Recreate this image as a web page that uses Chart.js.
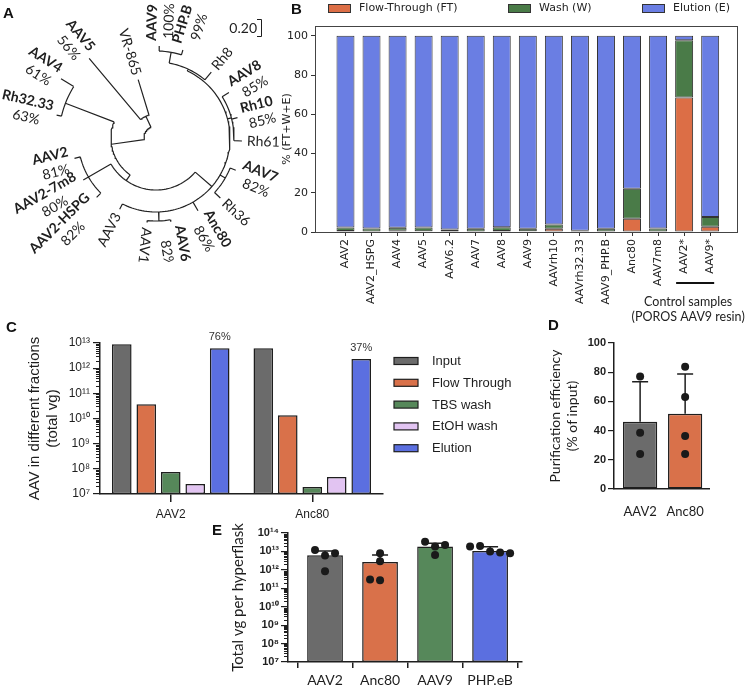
<!DOCTYPE html>
<html>
<head>
<meta charset="utf-8">
<script src="https://cdn.jsdelivr.net/npm/chart.js@4.4.1/dist/chart.umd.min.js"></script>
<style>
  body { margin: 0; background: #fff; width: 745px; height: 689px; position: relative; overflow: hidden; }
  canvas { position: absolute; }
  .tag { position: absolute; font: bold 15px "Liberation Sans", Arial, sans-serif; color: #111; line-height: 15px; }
</style>
</head>
<body>
<canvas id="treeChart" width="290" height="262" style="left:0;top:0"></canvas>
<canvas id="fracChart" width="473" height="330" style="left:272px;top:0"></canvas>
<canvas id="logChart" width="520" height="210" style="left:0;top:330px"></canvas>
<canvas id="effChart" width="225" height="210" style="left:520px;top:330px"></canvas>
<canvas id="yieldChart" width="400" height="169" style="left:150px;top:520px"></canvas>
<div class="tag" style="left:3px;top:5px">A</div>
<div class="tag" style="left:291px;top:1px">B</div>
<div class="tag" style="left:6px;top:319px">C</div>
<div class="tag" style="left:548px;top:317px">D</div>
<div class="tag" style="left:212px;top:522px">E</div>
<script>
// ---- A: capsid tree (angle in degrees clockwise from top, depth = distance from root)
var treeNames  = ['root','c5','AAV5','VR-865','cMain','c4','AAV4','Rh32.33','cBig','c2','AAV2','AAV2-7m8','AAV2-HSPG','cRing','AAV3','c16','AAV1','AAV6.2','Anc80','c7','AAV7','Rh36','cRh','Rh61','Rh10','AAV8','cTop','Rh8','c9','AAV9','PHP.B'];
var treeParent = [-1,0,1,1,0,4,5,5,4,8,9,9,9,8,13,13,15,15,13,13,19,19,13,22,22,22,13,26,26,28,28];
var treeAngle  = [300,335,320,343,262,291,302,283,215,240,256,240,225,131,207,178,186,170,150,120,112,133,75,92,76,58,25,40,10,2,17];
var treeDepth  = [12,24,104,61,45,97,112,102,52,78,84,84,84,74,80,83,85,85,84,80,86,88,78,86,84,86,76,86,87,92,92];
var treeScore  = ['','','56%','','','','61%','63%','','','81%','80%','82%','','','','','82%','86%','','82%','','','','85%','85%','','','','100%','99%'];

// ---- B: fraction of vector genomes per fraction (%)
var sampleNames = ['AAV2','AAV2_HSPG','AAV4','AAV5','AAV6.2','AAV7','AAV8','AAV9','AAVrh10','AAVrh32.33','AAV9_PHP.B','Anc80','AAV7m8','AAV2*','AAV9*'];
var flowThrough = [0.5,0.3,0.6,0.4,0.3,0.3,0.5,0.4,1.6,0.2,0.3,6.7,0.3,68.5,2.7];
var washFrac    = [1.8,1.5,1.6,1.9,1.0,1.4,1.9,1.3,2.2,0.5,1.3,15.3,1.5,29.3,5.0];
var elutionFrac = [97.7,98.2,97.8,97.7,98.7,98.3,97.6,98.3,96.2,99.3,98.4,78.0,98.2,2.2,92.3];

// ---- C: total vg in each fraction
var fracGroups = ['AAV2','Anc80'];
var inputVg    = [8.9e12, 6.2e12];
var ftVg       = [3.7e10, 1.35e10];
var tbsVg      = [7.5e7, 1.9e7];
var etohVg     = [2.5e7, 4.7e7];
var elutionVg  = [6.2e12, 2.3e12];
var elutionPct = ['76%','37%'];

// ---- D: purification efficiency (% of input)
var effNames  = ['AAV2','Anc80'];
var effMean   = [46, 51.5];
var effSD     = [27.5, 27.3];
var effPoints = [[77, 38.6, 24], [83.8, 63, 36.3, 24]];

// ---- E: total vg per hyperflask
var yieldNames  = ['AAV2','Anc80','AAV9','PHP.eB'];
var yieldMean   = [6.2e12, 2.7e12, 1.85e13, 1.07e13];
var yieldSD     = [4.5e12, 3.8e12, 9.5e12, 7.3e12];
var yieldPoints = [[6e12, 1.2e13, 8e12, 8.5e11], [2.9e12, 8e12, 2.7e11, 3e11], [1.85e13, 3.3e13, 2.2e13, 6.5e12], [9.8e12, 1.95e13, 8.7e12, 1.85e13, 8e12]];

var GRAY = '#6b6b6b', ORANGE = '#d9714a', GREEN = '#56885a', BLUE = '#5b6fe0', LILAC = '#e2c4f2';
var INK = '#1e1e1e';
var SUP = {'0':'⁰','1':'¹','2':'²','3':'³','4':'⁴','5':'⁵','6':'⁶','7':'⁷','8':'⁸','9':'⁹'};
function powLabel(v) {
  var e = Math.round(Math.log10(v));
  return '10' + String(e).split('').map(function(c){ return SUP[c]; }).join('');
}
function decades(lo, hi) {
  var t = [];
  for (var e = lo; e <= hi; e++) t.push({value: Math.pow(10, e)});
  return t;
}

// spread overlapping dots sideways like a column scatter
function swarm(groups, toPx, pxPerCat) {
  var out = [];
  groups.forEach(function(vals, g) {
    var placed = [];
    vals.forEach(function(v) {
      var py = toPx(v);
      var tries = [0, -1, 1, -2, 2, -3, 3];
      for (var t = 0; t < tries.length; t++) {
        var px = tries[t] * 10;
        var ok = placed.every(function(p){ return Math.hypot(p.px - px, p.py - py) >= 8; });
        if (ok) { placed.push({px: px, py: py}); out.push({x: g + px / pxPerCat, y: v}); break; }
      }
    });
  });
  return out;
}

var minorTicks = {
  id: 'minorTicks',
  afterDraw: function(chart) {
    var s = chart.scales.y, ctx = chart.ctx, x0 = chart.chartArea.left;
    var lo = Math.round(Math.log10(s.min)), hi = Math.round(Math.log10(s.max));
    ctx.save();
    ctx.strokeStyle = INK; ctx.lineWidth = 1;
    for (var e = lo; e < hi; e++) {
      for (var k = 2; k < 10; k++) {
        var y = Math.round(s.getPixelForValue(k * Math.pow(10, e))) + 0.5;
        ctx.beginPath(); ctx.moveTo(x0 - 4, y); ctx.lineTo(x0, y); ctx.stroke();
      }
    }
    ctx.restore();
  }
};

function errorBars(sd) {
  return {
    id: 'errorBars',
    afterDatasetDraw: function(chart, args) {
      if (args.index !== 0) return;
      var ctx = chart.ctx, ys = chart.scales.y, data = chart.data.datasets[0].data;
      ctx.save();
      ctx.strokeStyle = INK; ctx.lineWidth = 1.5;
      args.meta.data.forEach(function(bar, i) {
        var top = ys.getPixelForValue(data[i].y + sd[i]);
        ctx.beginPath();
        ctx.moveTo(bar.x, bar.y); ctx.lineTo(bar.x, top);
        ctx.moveTo(bar.x - 8, top); ctx.lineTo(bar.x + 8, top);
        ctx.stroke();
      });
      ctx.restore();
    }
  };
}

// ================= A =================
var treeLines = [];
function pushPt(r, deg) {
  var a = deg * Math.PI / 180;
  treeLines.push({x: r * Math.sin(a), y: r * Math.cos(a)});
}
function gap() { treeLines.push({x: null, y: null}); }
treeNames.forEach(function(n, i) {
  var p = treeParent[i];
  if (p >= 0) { pushPt(treeDepth[p], treeAngle[i]); pushPt(treeDepth[i], treeAngle[i]); gap(); }
  var kids = treeAngle.filter(function(a, j){ return treeParent[j] === i; });
  if (kids.length) {
    var a0 = Math.min.apply(null, kids), a1 = Math.max.apply(null, kids);
    for (var a = a0; a < a1; a += 2) pushPt(treeDepth[i], a);
    pushPt(treeDepth[i], a1); gap();
  }
});
function isLeaf(i) { return treeParent.indexOf(i) < 0; }

var treeLabels = {
  id: 'treeLabels',
  afterDatasetsDraw: function(chart) {
    var ctx = chart.ctx, sx = chart.scales.x, sy = chart.scales.y;
    treeNames.forEach(function(name, i) {
      if (!isLeaf(i)) return;
      var pct = treeScore[i];
      var nameFont = (pct ? 'bold ' : '') + '14px Lato';
      ctx.save();
      ctx.font = nameFont; var w1 = ctx.measureText(name).width;
      ctx.font = '14px Lato'; var w2 = pct ? ctx.measureText(pct).width : 0;
      var th = treeAngle[i];
      var r = treeDepth[i] + 5 + Math.max(w1, w2) / 2;
      var a = th * Math.PI / 180;
      ctx.translate(sx.getPixelForValue(r * Math.sin(a)), sy.getPixelForValue(r * Math.cos(a)));
      ctx.rotate((th < 190 ? th - 90 : th - 270) * Math.PI / 180);
      ctx.fillStyle = INK; ctx.textAlign = 'center'; ctx.textBaseline = 'middle';
      var off = pct ? 8 : 0;
      ctx.font = nameFont; ctx.fillText(name, 0, -off);
      if (pct) { ctx.font = '14px Lato'; ctx.fillText(pct, 2, off + 1); }
      ctx.restore();
    });
    // scale bar
    ctx.save();
    ctx.fillStyle = INK; ctx.strokeStyle = INK; ctx.lineWidth = 1;
    ctx.font = '14px Lato'; ctx.textAlign = 'right'; ctx.textBaseline = 'middle';
    ctx.fillText('0.20', 257, 28);
    ctx.beginPath();
    ctx.moveTo(257, 19.5); ctx.lineTo(261.5, 19.5); ctx.lineTo(261.5, 36.5); ctx.lineTo(257, 36.5);
    ctx.stroke();
    ctx.restore();
  }
};

new Chart(document.getElementById('treeChart'), {
  type: 'scatter',
  data: { datasets: [{ data: treeLines, showLine: true, spanGaps: false, pointRadius: 0, borderColor: '#222', borderWidth: 1.2, tension: 0 }] },
  options: {
    responsive: false, animation: false,
    layout: { padding: 0 },
    plugins: { legend: { display: false }, tooltip: { enabled: false } },
    scales: {
      x: { type: 'linear', min: -156, max: 134, display: false },
      y: { type: 'linear', min: -124, max: 138, display: false }
    }
  },
  plugins: [treeLabels]
});

// ================= B =================
var fracExtras = {
  id: 'fracExtras',
  afterDraw: function(chart) {
    var ctx = chart.ctx, ca = chart.chartArea, xs = chart.scales.x;
    ctx.save();
    ctx.strokeStyle = '#444'; ctx.lineWidth = 1;
    ctx.strokeRect(Math.round(ca.left) + 0.5, Math.round(ca.top) + 0.5, Math.round(ca.right - ca.left), Math.round(ca.bottom - ca.top));
    // legend
    var lx = [56, 236, 370];
    ctx.font = '11px "DejaVu Sans"'; ctx.textBaseline = 'middle'; ctx.textAlign = 'left';
    chart.data.datasets.forEach(function(ds, i) {
      ctx.fillStyle = ds.backgroundColor; ctx.fillRect(lx[i], 4, 22, 8);
      ctx.strokeStyle = '#333'; ctx.strokeRect(lx[i] + 0.5, 4.5, 22, 8);
      ctx.fillStyle = '#222'; ctx.fillText(ds.label, lx[i] + 31, 8.5);
    });
    // control samples bracket
    var a = xs.getPixelForValue(13), b = xs.getPixelForValue(14), mid = (a + b) / 2;
    ctx.strokeStyle = '#111'; ctx.lineWidth = 2;
    ctx.beginPath(); ctx.moveTo(a - 8, ca.bottom + 51); ctx.lineTo(b + 4, ca.bottom + 51); ctx.stroke();
    ctx.fillStyle = '#222'; ctx.textAlign = 'center'; ctx.font = '12.5px Lato';
    ctx.fillText('Control samples', mid - 9, ca.bottom + 70);
    ctx.fillText('(POROS AAV9 resin)', mid - 9, ca.bottom + 85);
    ctx.restore();
  }
};
function xy(arr) { return arr.map(function(v, i){ return {x: i, y: v}; }); }
var tickFontB = { family: '"DejaVu Sans"', size: 11 };
var edgeB = { borderColor: '#333', borderWidth: 1, borderSkipped: false };
new Chart(document.getElementById('fracChart'), {
  type: 'bar',
  data: {
    datasets: [
      Object.assign({ label: 'Flow-Through (FT)', data: xy(flowThrough), backgroundColor: '#dc6e46' }, edgeB),
      Object.assign({ label: 'Wash (W)', data: xy(washFrac), backgroundColor: '#4a7b48' }, edgeB),
      Object.assign({ label: 'Elution (E)', data: xy(elutionFrac), backgroundColor: '#6a7ee3' }, edgeB)
    ]
  },
  options: {
    responsive: false, animation: false,
    barPercentage: 0.69, categoryPercentage: 1,
    layout: { padding: { left: 0, right: 8, top: 26, bottom: 0 } },
    plugins: { legend: { display: false }, tooltip: { enabled: false } },
    scales: {
      x: {
        type: 'linear', stacked: true, min: -1.17, max: 15.03, offset: false,
        grid: { drawOnChartArea: false, tickLength: 4, color: '#333', offset: false },
        border: { display: false },
        afterBuildTicks: function(s) { s.ticks = sampleNames.map(function(n, i){ return {value: i}; }); },
        ticks: { autoSkip: false, minRotation: 90, maxRotation: 90, padding: 3, color: '#222', font: tickFontB,
                 callback: function(v) { return sampleNames[v]; } },
        afterFit: function(s) { s.height = 98; }
      },
      y: {
        stacked: true, min: 0, max: 105,
        grid: { drawOnChartArea: false, tickLength: 4, color: '#333' },
        border: { display: false },
        afterBuildTicks: function(s) { s.ticks = [0, 20, 40, 60, 80, 100].map(function(v){ return {value: v}; }); },
        ticks: { padding: 3, color: '#222', font: tickFontB },
        title: { display: true, text: '% (FT+W+E)', color: '#222', font: tickFontB, padding: { top: 9, bottom: 0 } },
        afterFit: function(s) { s.width = 43; }
      }
    }
  },
  plugins: [fracExtras]
});

// ================= C =================
var logExtras = {
  id: 'logExtras',
  afterDraw: function(chart) {
    var ctx = chart.ctx;
    ctx.save();
    ctx.font = '11px "Liberation Sans"'; ctx.fillStyle = '#333';
    ctx.textAlign = 'center'; ctx.textBaseline = 'middle';
    chart.getDatasetMeta(4).data.forEach(function(bar, i) {
      ctx.fillText(elutionPct[i], bar.x, bar.y - 11);
    });
    ctx.font = '13px "Liberation Sans"'; ctx.textAlign = 'left';
    chart.data.datasets.forEach(function(ds, i) {
      var y = 31 + i * 21.8;
      ctx.fillStyle = ds.backgroundColor; ctx.fillRect(394, y - 3.5, 24, 7);
      ctx.strokeStyle = INK; ctx.lineWidth = 1.2; ctx.strokeRect(394, y - 3.5, 24, 7);
      ctx.fillStyle = INK; ctx.fillText(ds.label, 432, y + 0.5);
    });
    ctx.restore();
  }
};
var arialC = { family: '"Liberation Sans"', size: 12 };
var edgeC = { borderColor: INK, borderWidth: 1.5, borderSkipped: false };
new Chart(document.getElementById('logChart'), {
  type: 'bar',
  data: {
    labels: fracGroups,
    datasets: [
      Object.assign({ label: 'Input', data: inputVg, backgroundColor: GRAY }, edgeC),
      Object.assign({ label: 'Flow Through', data: ftVg, backgroundColor: ORANGE }, edgeC),
      Object.assign({ label: 'TBS wash', data: tbsVg, backgroundColor: GREEN }, edgeC),
      Object.assign({ label: 'EtOH wash', data: etohVg, backgroundColor: LILAC }, edgeC),
      Object.assign({ label: 'Elution', data: elutionVg, backgroundColor: BLUE }, edgeC)
    ]
  },
  options: {
    responsive: false, animation: false,
    barPercentage: 0.8, categoryPercentage: 0.865,
    layout: { padding: { left: 0, right: 137, top: 13, bottom: 0 } },
    plugins: { legend: { display: false }, tooltip: { enabled: false } },
    scales: {
      x: {
        grid: { drawOnChartArea: false, offset: false, tickLength: 8, color: INK, lineWidth: 1.5 },
        border: { color: INK, width: 1.5 },
        ticks: { padding: 5, color: INK, font: arialC },
        afterFit: function(s) { s.height = 46; }
      },
      y: {
        type: 'logarithmic', min: 1e7, max: 1e13,
        grid: { drawOnChartArea: false, tickLength: 7, color: INK, lineWidth: 1.2 },
        border: { color: INK, width: 1.5 },
        afterBuildTicks: function(s) { s.ticks = decades(7, 13); },
        ticks: { autoSkip: false, padding: 3, color: INK, font: arialC, callback: powLabel },
        title: { display: true, text: ['AAV in different fractions', '(total vg)'], color: INK,
                 font: { family: '"Liberation Sans"', size: 15 }, padding: { top: 26, bottom: 0 } },
        afterFit: function(s) { s.width = 100; }
      }
    }
  },
  plugins: [minorTicks, logExtras]
});

// ================= D =================
var boldTicks = { family: '"Liberation Sans"', size: 11, weight: 'bold' };
new Chart(document.getElementById('effChart'), {
  type: 'bar',
  data: {
    datasets: [
      { type: 'bar', order: 2, data: xy(effMean), backgroundColor: [GRAY, ORANGE], borderColor: INK, borderWidth: 1.5, borderSkipped: false },
      { type: 'scatter', order: 1, data: swarm(effPoints, function(v){ return v * 1.46; }, 45),
        backgroundColor: '#1a1a1a', borderWidth: 0, pointRadius: 4 }
    ]
  },
  options: {
    responsive: false, animation: false,
    barPercentage: 0.76, categoryPercentage: 1,
    layout: { padding: { left: 0, right: 36, top: 13, bottom: 0 } },
    plugins: { legend: { display: false }, tooltip: { enabled: false } },
    scales: {
      x: {
        type: 'linear', min: -0.58, max: 1.53, offset: false,
        grid: { display: false, drawTicks: false },
        border: { color: INK, width: 1.5 },
        afterBuildTicks: function(s) { s.ticks = effNames.map(function(n, i){ return {value: i}; }); },
        ticks: { autoSkip: false, maxRotation: 0, padding: 15, color: INK, font: { family: 'Lato', size: 13 },
                 callback: function(v) { return effNames[v]; } },
        afterFit: function(s) { s.height = 51; }
      },
      y: {
        min: 0, max: 100,
        grid: { drawOnChartArea: false, tickLength: 6, color: INK, lineWidth: 1.2 },
        border: { color: INK, width: 1.5 },
        ticks: { stepSize: 20, padding: 2, color: INK, font: boldTicks },
        title: { display: true, text: ['Purification efficiency', '(% of input)'], color: INK,
                 font: { family: 'Lato', size: 14 }, padding: { top: 27, bottom: 0 } },
        afterFit: function(s) { s.width = 94; }
      }
    }
  },
  plugins: [errorBars(effSD)]
});

// ================= E =================
new Chart(document.getElementById('yieldChart'), {
  type: 'bar',
  data: {
    datasets: [
      { type: 'bar', order: 2, data: xy(yieldMean), backgroundColor: [GRAY, ORANGE, GREEN, BLUE], borderColor: INK, borderWidth: 1.5, borderSkipped: false },
      { type: 'scatter', order: 1, data: swarm(yieldPoints, function(v){ return Math.log10(v) * 18.4; }, 55),
        backgroundColor: '#1a1a1a', borderWidth: 0, pointRadius: 4 }
    ]
  },
  options: {
    responsive: false, animation: false,
    barPercentage: 0.65, categoryPercentage: 1,
    layout: { padding: { left: 0, right: 28, top: 13, bottom: 0 } },
    plugins: { legend: { display: false }, tooltip: { enabled: false } },
    scales: {
      x: {
        type: 'linear', min: -0.673, max: 3.58, offset: false,
        grid: { drawOnChartArea: false, tickLength: 6, color: INK, lineWidth: 1.5 },
        border: { color: INK, width: 1.5 },
        afterBuildTicks: function(s) { s.ticks = yieldNames.map(function(n, i){ return {value: i}; }); },
        ticks: { autoSkip: false, maxRotation: 0, padding: 4, color: INK, font: { family: 'Lato', size: 14 },
                 callback: function(v) { return yieldNames[v]; } },
        afterFit: function(s) { s.height = 27; }
      },
      y: {
        type: 'logarithmic', min: 1e7, max: 1e14,
        grid: { drawOnChartArea: false, tickLength: 7, color: INK, lineWidth: 1.2 },
        border: { color: INK, width: 1.5 },
        afterBuildTicks: function(s) { s.ticks = decades(7, 14); },
        ticks: { autoSkip: false, padding: 2, color: INK, font: { family: '"Liberation Sans"', size: 11, weight: 'bold' }, callback: powLabel },
        title: { display: true, text: 'Total vg per hyperflask', color: INK,
                 font: { family: 'Lato', size: 15 }, padding: { top: 79, bottom: 0 } },
        afterFit: function(s) { s.width = 138; }
      }
    }
  },
  plugins: [minorTicks, errorBars(yieldSD)]
});
</script>
</body>
</html>
